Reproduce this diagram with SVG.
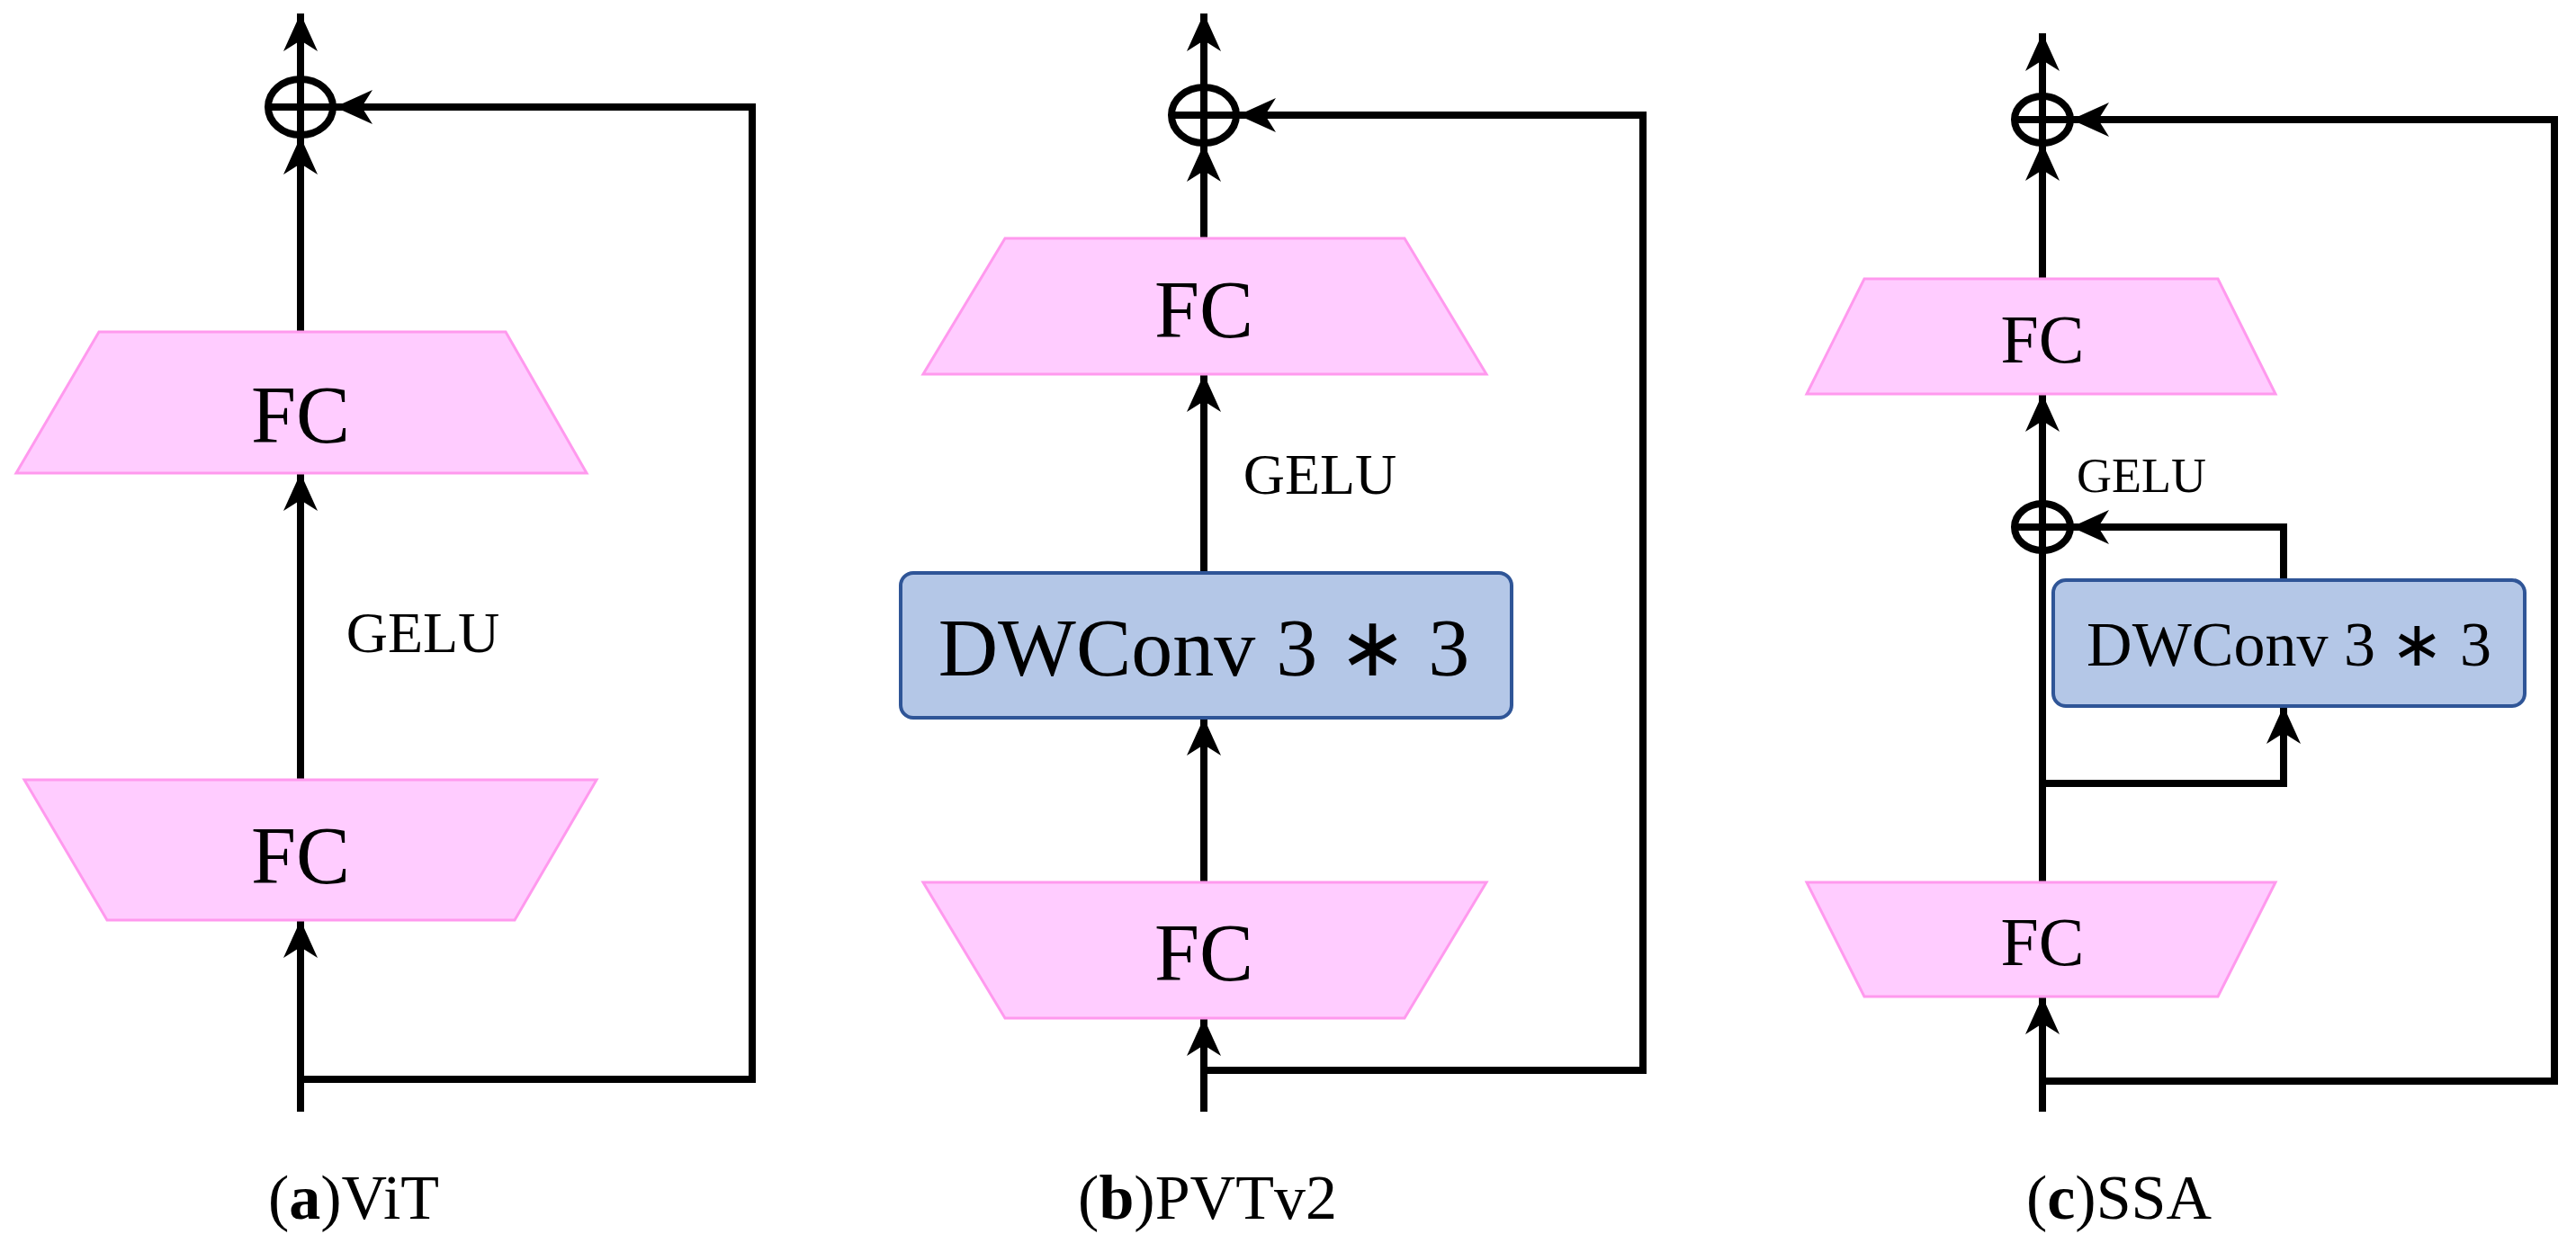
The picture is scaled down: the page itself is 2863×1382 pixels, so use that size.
<svg xmlns="http://www.w3.org/2000/svg" width="2863" height="1382" viewBox="0 0 2863 1382">
<style>
.fc{fill:#ffccff;stroke:#ff99ee;stroke-width:3}
.dw{fill:#b4c7e7;stroke:#2f5597;stroke-width:4}
.t{font-family:"Liberation Serif",serif;fill:#000;text-anchor:middle}
.c{fill:none;stroke:#000;stroke-width:8}
.a{fill:none;stroke:#000;stroke-width:8;marker-end:url(#ar)}
</style>
<defs>
<marker id="ar" markerUnits="userSpaceOnUse" markerWidth="50" markerHeight="50" viewBox="0 0 50 50" refX="46" refY="25" orient="auto">
<path d="M4,6 L46,25 L4,44 L16,25 Z" fill="#000"/>
</marker>
</defs>
<rect width="2863" height="1382" fill="#fff"/>
<g id="connectors">
<path class="a" d="M334,1236 V1023"/>
<path class="a" d="M334,867 V526"/>
<path class="a" d="M334,369 V152"/>
<path class="a" d="M334,119 V15"/>
<path class="a" d="M334,1200 H836 V119 H372"/>
<path class="a" d="M1338,1236 V1132"/>
<path class="a" d="M1338,981 V798"/>
<path class="a" d="M1338,637 V416"/>
<path class="a" d="M1338,265 V160"/>
<path class="a" d="M1338,128 V15"/>
<path class="a" d="M1338,1190 H1826 V128 H1376"/>
<path class="a" d="M2270,1236 V1108"/>
<path class="c" d="M2270,981 V560"/>
<path class="a" d="M2270,586 V438"/>
<path class="a" d="M2270,310 V159"/>
<path class="a" d="M2270,133 V37"/>
<path class="a" d="M2270,1202 H2839 V133 H2302"/>
<path class="a" d="M2270,871 H2538 V785"/>
<path class="a" d="M2538,645 V586 H2302"/>
<ellipse class="c" cx="334" cy="119" rx="36" ry="31"/>
<path class="c" d="M298,119 H370 M334,88 V150"/>
<ellipse class="c" cx="1338" cy="128" rx="36" ry="31"/>
<path class="c" d="M1302,128 H1374 M1338,97 V159"/>
<ellipse class="c" cx="2270" cy="133" rx="31" ry="26"/>
<path class="c" d="M2239,133 H2301 M2270,107 V159"/>
<ellipse class="c" cx="2270" cy="586" rx="31" ry="26"/>
<path class="c" d="M2239,586 H2301"/>
</g>
<g id="a-fc2"><polygon class="fc" points="110,369 562,369 652,526 18,526"/><text class="t" x="334" y="492" font-size="90">FC</text></g>
<g id="a-fc1"><polygon class="fc" points="27,867 663,867 572,1023 119,1023"/><text class="t" x="334" y="982" font-size="90">FC</text></g>
<text class="t" x="470" y="725" font-size="64">GELU</text>
<g id="b-fc2"><polygon class="fc" points="1117,265 1561,265 1652,416 1026,416"/><text class="t" x="1338" y="375" font-size="90">FC</text></g>
<g id="b-dw"><rect class="dw" x="1001" y="637" width="679" height="161" rx="14"/><text class="t" x="1338" y="751" font-size="92">DWConv 3 ∗ 3</text></g>
<g id="b-fc1"><polygon class="fc" points="1026,981 1652,981 1561,1132 1117,1132"/><text class="t" x="1338" y="1090" font-size="90">FC</text></g>
<text class="t" x="1467" y="549" font-size="64">GELU</text>
<g id="c-fc2"><polygon class="fc" points="2072,310 2465,310 2529,438 2008,438"/><text class="t" x="2270" y="403" font-size="76">FC</text></g>
<g id="c-dw"><rect class="dw" x="2282" y="645" width="524" height="140" rx="14"/><text class="t" x="2544" y="740" font-size="70">DWConv 3 ∗ 3</text></g>
<g id="c-fc1"><polygon class="fc" points="2008,981 2529,981 2465,1108 2072,1108"/><text class="t" x="2270" y="1073" font-size="76">FC</text></g>
<text class="t" x="2380" y="547" font-size="54">GELU</text>
<text class="t" x="393" y="1355" font-size="70">(<tspan font-weight="bold">a</tspan>)ViT</text>
<text class="t" x="1342" y="1355" font-size="70">(<tspan font-weight="bold">b</tspan>)PVTv2</text>
<text class="t" x="2355" y="1355" font-size="70">(<tspan font-weight="bold">c</tspan>)SSA</text>
</svg>
